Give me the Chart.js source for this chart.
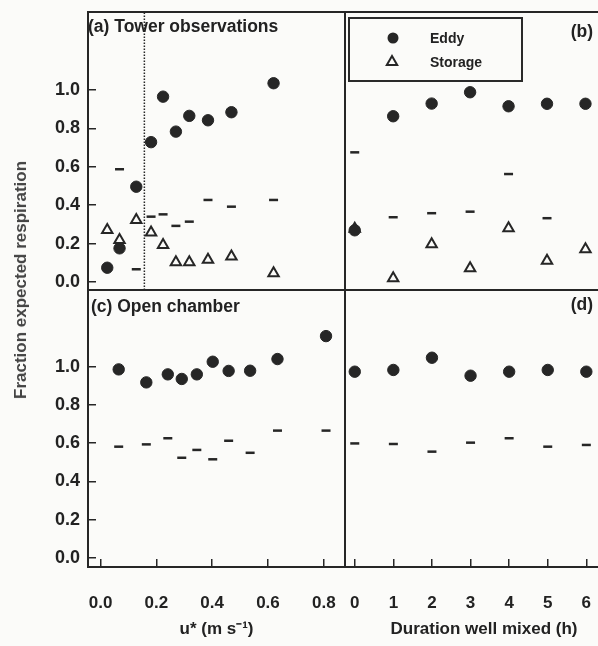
<!DOCTYPE html>
<html>
<head>
<meta charset="utf-8">
<script src="https://cdn.jsdelivr.net/npm/chart.js@4.4.1/dist/chart.umd.min.js"></script>
<style>
  html, body { margin: 0; padding: 0; background: #fbfbf9; }
  #fig { position: relative; width: 598px; height: 646px; overflow: hidden;
         font-family: 'Liberation Sans', Arial, sans-serif; color: #222; }
  #fig canvas { position: absolute; left: 0; top: 0; }
  .lbl { position: absolute; font-weight: bold; font-size: 17.5px; line-height: 20px; white-space: nowrap; }
  #ytitle { position: absolute; left: 21px; top: 280px; transform: translate(-50%, -50%) rotate(-90deg);
            font-weight: bold; font-size: 17px; color: #444; white-space: nowrap; }
  #legend { position: absolute; left: 348px; top: 17px; width: 171px; height: 61px; border: 2px solid #2a2a2a; }
  #legend svg { position: absolute; left: 0; top: 0; }
  #legend span { position: absolute; left: 80px; font-weight: bold; font-size: 14px; line-height: 20px; }
</style>
</head>
<body>
<div id="fig">
  <canvas id="cA" width="598" height="646"></canvas>
  <canvas id="cB" width="630" height="646"></canvas>
  <canvas id="cC" width="598" height="646"></canvas>
  <canvas id="cD" width="630" height="646"></canvas>

  <div class="lbl" style="left:88px; top:16px;">(a) Tower observations</div>
  <div class="lbl" style="right:5px; top:21px;">(b)</div>
  <div class="lbl" style="left:91px; top:296px;">(c) Open chamber</div>
  <div class="lbl" style="right:5px; top:294px;">(d)</div>
  <div id="ytitle">Fraction expected respiration</div>

  <div id="legend">
    <svg width="171" height="61">
      <circle cx="43" cy="19" r="5.5" fill="#262626"/>
      <polygon points="42,37 47.2,46 36.8,46" fill="none" stroke="#262626" stroke-width="2"/>
    </svg>
    <span style="top:9px;">Eddy</span>
    <span style="top:33px;">Storage</span>
  </div>
</div>

<script>
// tick values
const FRACTION_TICKS = [0.0, 0.2, 0.4, 0.6, 0.8, 1.0];
const USTAR_TICKS = [0.0, 0.2, 0.4, 0.6, 0.8];
const HOUR_TICKS = [0, 1, 2, 3, 4, 5, 6];

// (a) tower observations against u*
const towerUstar   = [0.024, 0.068, 0.128, 0.181, 0.224, 0.270, 0.318, 0.385, 0.469, 0.620];
const towerEddy    = [0.074, 0.175, 0.496, 0.728, 0.965, 0.783, 0.865, 0.842, 0.884, 1.035];
const towerStorage = [0.271, 0.219, 0.323, 0.257, 0.193, 0.102, 0.102, 0.115, 0.132, 0.045];
const towerDash    = [null, 0.587, 0.066, 0.340, 0.352, 0.292, 0.314, 0.427, 0.392, 0.427];
const ustarCutoff  = 0.157;

// (b) tower observations against hours well mixed
const mixedHours   = [0, 1, 2, 3, 4, 5, 6];
const mixedEddy    = [0.269, 0.863, 0.929, 0.988, 0.915, 0.928, 0.928];
const mixedStorage = [0.277, 0.019, 0.196, 0.071, 0.280, 0.111, 0.170];
const mixedDash    = [0.675, 0.337, 0.358, 0.366, 0.562, 0.332, null];

// (c) open chamber against u*
const chamberUstar = [0.065, 0.164, 0.241, 0.291, 0.345, 0.402, 0.459, 0.536, 0.634, 0.808];
const chamberEddy  = [0.986, 0.918, 0.960, 0.936, 0.960, 1.026, 0.978, 0.979, 1.040, 1.160];
const chamberDash  = [0.582, 0.594, 0.626, 0.524, 0.565, 0.516, 0.613, 0.550, 0.666, 0.666];

// (d) open chamber against hours well mixed
const chamberMixedEddy = [0.974, 0.983, 1.047, 0.953, 0.974, 0.983, 0.974];
const chamberMixedDash = [0.599, 0.596, 0.556, 0.603, 0.626, 0.582, 0.591];

// axis ranges
const USTAR_RANGE  = [-0.045, 0.876];
const HOUR_RANGE   = [-0.253, 6.95];
const TOP_RANGE    = [-0.042, 1.406];
const BOTTOM_RANGE = [-0.047, 1.401];

const INK = '#262626';
const TEXT = '#222';
const FONT = "'Liberation Sans', Arial, sans-serif";

function pts(xs, ys) {
    return xs.map((x, i) => ({ x: x, y: ys[i] })).filter(p => p.y !== null);
}

function eddySet(data) {
    return { label: 'Eddy', data: data, pointStyle: 'circle', pointRadius: 5.7,
             backgroundColor: INK, borderColor: INK, borderWidth: 1 };
}
function storageSet(data) {
    return { label: 'Storage', data: data, pointStyle: 'triangle', pointRadius: 6,
             backgroundColor: 'rgba(0,0,0,0)', borderColor: INK, borderWidth: 2 };
}
function dashSet(data) {
    return { label: 'dash', data: data, pointStyle: 'line', pointRadius: 4.5,
             borderColor: INK, borderWidth: 2.5 };
}

// panel frame (box round the chart area)
const frame = {
    id: 'frame',
    afterDraw(chart, args, opts) {
        const { ctx, chartArea: a } = chart;
        const sides = opts.sides || 'tlbr';
        ctx.save();
        ctx.strokeStyle = INK;
        ctx.lineWidth = 2;
        ctx.beginPath();
        if (sides.includes('t')) { ctx.moveTo(a.left, a.top); ctx.lineTo(a.right, a.top); }
        if (sides.includes('b')) { ctx.moveTo(a.left, a.bottom); ctx.lineTo(a.right, a.bottom); }
        if (sides.includes('l')) { ctx.moveTo(a.left, a.top - 1); ctx.lineTo(a.left, a.bottom + 1); }
        if (sides.includes('r')) { ctx.moveTo(a.right, a.top - 1); ctx.lineTo(a.right, a.bottom + 1); }
        ctx.stroke();
        ctx.restore();
    }
};

const grid = { drawOnChartArea: false, drawTicks: true, tickLength: -8, color: INK, lineWidth: 1.5 };

function yAxis(range, show) {
    const ax = { min: range[0], max: range[1], display: show };
    if (!show) return ax;
    return Object.assign(ax, {
        afterFit: s => { s.width = 88; s.paddingTop = 0; s.paddingBottom = 0; },
        afterBuildTicks: s => { s.ticks = FRACTION_TICKS.map(v => ({ value: v })); },
        grid: grid,
        border: { display: false },
        ticks: { padding: 16, autoSkip: false, color: TEXT,
                 font: { family: FONT, size: 18, weight: 'bold' },
                 callback: v => v.toFixed(1) }
    });
}

function xAxis(range, ticks, fmt, title) {
    const ax = { min: range[0], max: range[1], display: !!ticks };
    if (!ticks) return ax;
    return Object.assign(ax, {
        afterFit: s => { s.height = 79; s.paddingLeft = 0; s.paddingRight = 0; },
        afterBuildTicks: s => { s.ticks = ticks.map(v => ({ value: v })); },
        grid: grid,
        border: { display: false },
        ticks: { padding: 34, autoSkip: false, maxRotation: 0, color: TEXT,
                 font: { family: FONT, size: 17, weight: 'bold' },
                 callback: fmt },
        title: { display: true, text: title, color: TEXT,
                 font: { family: FONT, size: 17, weight: 'bold' },
                 padding: { top: 0, bottom: 6 } }
    });
}

function panel(id, datasets, padding, sides, x, y) {
    return new Chart(document.getElementById(id), {
        type: 'scatter',
        data: { datasets: datasets },
        options: {
            responsive: false,
            animation: false,
            events: [],
            layout: { padding: padding },
            plugins: { legend: { display: false }, tooltip: { enabled: false }, frame: { sides: sides } },
            scales: { x: x, y: y }
        },
        plugins: [frame]
    });
}

// (a)
panel('cA', [
    eddySet(pts(towerUstar, towerEddy)),
    storageSet(pts(towerUstar, towerStorage)),
    dashSet(pts(towerUstar, towerDash)),
    { type: 'line', label: 'cutoff', showLine: true, pointRadius: 0, borderColor: INK,
      borderWidth: 1.5, borderDash: [1.5, 1.5],
      data: [{ x: ustarCutoff, y: TOP_RANGE[0] }, { x: ustarCutoff, y: TOP_RANGE[1] }] }
], { left: 0, top: 12, right: 253, bottom: 356 }, 'tlbr',
   xAxis(USTAR_RANGE, null), yAxis(TOP_RANGE, true));

// (b)
panel('cB', [
    eddySet(pts(mixedHours, mixedEddy)),
    storageSet(pts(mixedHours, mixedStorage)),
    dashSet(pts(mixedHours, mixedDash))
], { left: 345, top: 12, right: 0, bottom: 356 }, 'tlb',
   xAxis(HOUR_RANGE, null), yAxis(TOP_RANGE, false));

// (c)
panel('cC', [
    eddySet(pts(chamberUstar, chamberEddy)),
    dashSet(pts(chamberUstar, chamberDash))
], { left: 0, top: 290, right: 253, bottom: 0 }, 'tlbr',
   xAxis(USTAR_RANGE, USTAR_TICKS, v => v.toFixed(1), 'u* (m s\u207B\u00B9)'), yAxis(BOTTOM_RANGE, true));

// (d)
panel('cD', [
    eddySet(pts(mixedHours, chamberMixedEddy)),
    dashSet(pts(mixedHours, chamberMixedDash))
], { left: 345, top: 290, right: 0, bottom: 0 }, 'tlb',
   xAxis(HOUR_RANGE, HOUR_TICKS, v => String(v), 'Duration well mixed (h)'), yAxis(BOTTOM_RANGE, false));
</script>
</body>
</html>
